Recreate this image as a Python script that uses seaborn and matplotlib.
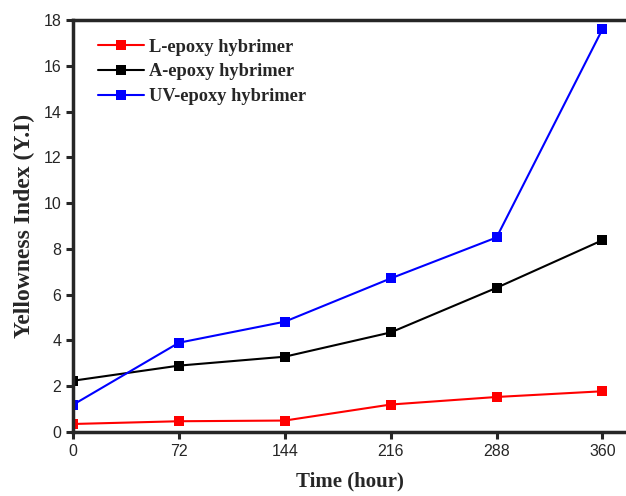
import matplotlib
matplotlib.use("Agg")
import matplotlib.pyplot as plt
import seaborn as sns
import pandas as pd

time_hours = [0, 72, 144, 216, 288, 360]
l_epoxy = [0.35, 0.47, 0.50, 1.20, 1.53, 1.78]
a_epoxy = [2.24, 2.90, 3.29, 4.35, 6.30, 8.38]
uv_epoxy = [1.19, 3.90, 4.82, 6.71, 8.50, 17.60]
series_names = ["L-epoxy hybrimer", "A-epoxy hybrimer", "UV-epoxy hybrimer"]
colors = ["#ff0000", "#000000", "#0000ff"]

df = pd.concat([
    pd.DataFrame({"Time": time_hours, "YI": vals, "Series": name})
    for name, vals in zip(series_names, [l_epoxy, a_epoxy, uv_epoxy])
])

sns.set_style("ticks")
plt.rcParams["font.family"] = ["Liberation Sans", "DejaVu Sans"]

fig = plt.figure(figsize=(6.26, 4.96), dpi=100)
ax = fig.add_axes([73/626, 1-432/496, 1-73/626, (432-20)/496])

sns.lineplot(data=df, x="Time", y="YI", hue="Series", palette=colors,
             hue_order=series_names, style="Series", markers=["s"]*3,
             dashes=False, markersize=7.5, markeredgewidth=0, linewidth=1.5,
             ax=ax)

ax.set_xlim(0, 376)
ax.set_ylim(0, 18)
ax.set_xticks(time_hours)
ax.set_yticks(range(0, 19, 2))
ax.tick_params(axis="both", direction="out", length=5, width=2.2, labelsize=11.5)
for s in ["left", "bottom", "top"]:
    ax.spines[s].set_linewidth(2.5)
ax.spines["right"].set_visible(False)

serif = ["Liberation Serif", "DejaVu Serif"]
ax.set_xlabel("Time (hour)", fontdict=dict(family=serif, weight="bold", size=15), labelpad=9)
ax.set_ylabel("Yellowness Index (Y.I)", fontdict=dict(family=serif, weight="bold", size=17), labelpad=6)

leg = ax.legend(loc="upper left", bbox_to_anchor=(0.015, 0.995), frameon=False,
                prop=dict(family=serif, weight="bold", size=13.2),
                handlelength=2.5, handletextpad=0.3, labelspacing=0.42)

fig.savefig("out.png", dpi=100)
